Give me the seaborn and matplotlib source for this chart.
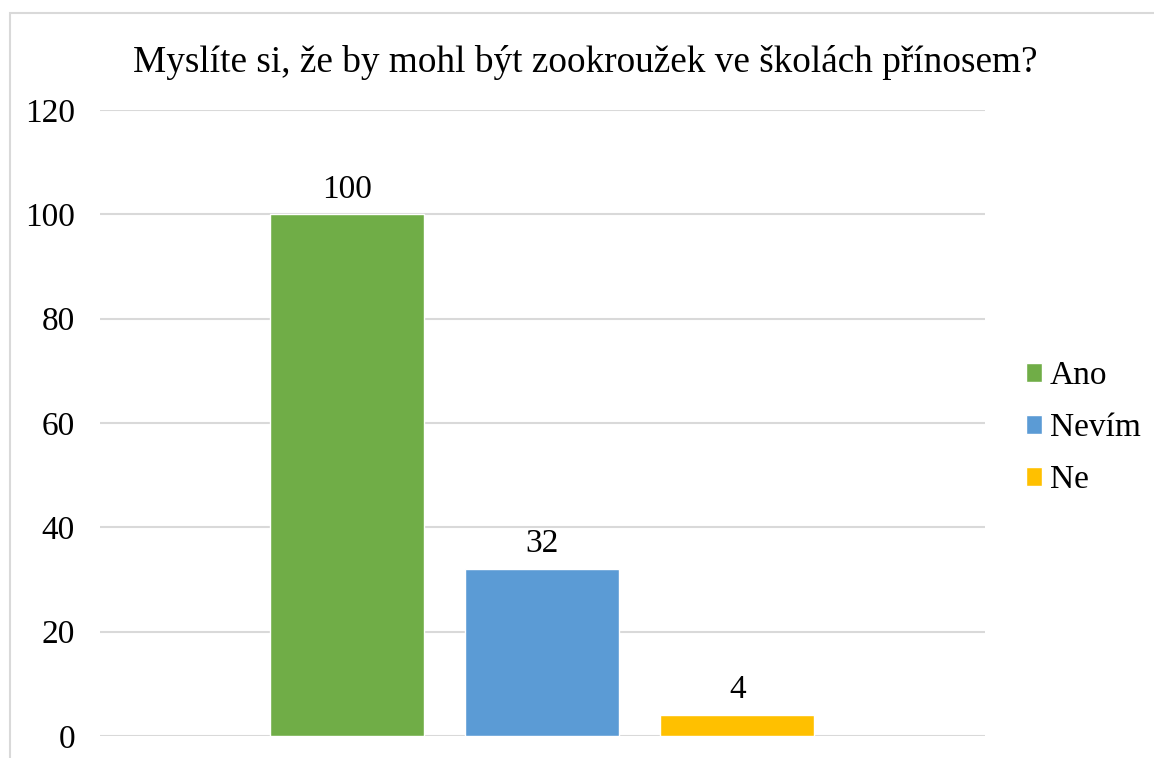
import matplotlib
matplotlib.use("Agg")
import matplotlib.pyplot as plt
import seaborn as sns
import pandas as pd
from matplotlib.patches import Rectangle

series = ["Ano", "Nevím", "Ne"]
values = [100, 32, 4]
colors = ["#70AD47", "#5B9BD5", "#FFC000"]
title = "Myslíte si, že by mohl být zookroužek ve školách přínosem?"

sns.set_theme(style="white")
plt.rcParams['font.family'] = ['Liberation Serif', 'DejaVu Serif']
plt.rcParams['text.color'] = 'black'
plt.rcParams['ytick.color'] = 'black'
plt.rcParams['ytick.labelcolor'] = 'black'

W, H = 1154, 758
fig = plt.figure(figsize=(W / 100, H / 100), dpi=100)
ax = fig.add_axes([100 / W, 1 - 736 / H, (985 - 100) / W, (736 - 110) / H])

df = pd.DataFrame({"series": series, "value": values})
sns.barplot(data=df, x="series", y="value", hue="series", palette=colors,
            width=154 / 195, ax=ax, legend=True, saturation=1, zorder=3)

ax.set_ylim(0, 120)
ax.set_yticks(range(0, 121, 20))
ax.set_xlim(-1.267, 3.27)
ax.set_xticks([])
ax.set_xlabel("")
ax.set_ylabel("")
for s in ax.spines.values():
    s.set_visible(False)
ax.grid(axis="y", color="#D9D9D9", linewidth=1.5, zorder=0)
ax.set_axisbelow(True)
ax.tick_params(axis="y", labelsize=24, pad=18, length=0, colors="black")

for c in ax.containers:
    ax.bar_label(c, fontsize=24, padding=7, color="black")

fig.text(585 / W, 1 - 62 / H, title, ha="center", va="center",
         fontsize=26.8, color="black")

leg = ax.legend(loc="center left", bbox_to_anchor=(1.046, 0.492), frameon=False,
                fontsize=24, handlelength=0.48, handleheight=0.48,
                handletextpad=0.25, labelspacing=0.65, borderpad=0,
                borderaxespad=0, labelcolor="black")

fig.patches.append(Rectangle((10 / W, -0.1), 1.2, 1 - 13 / H + 0.1,
                             transform=fig.transFigure, fill=False,
                             edgecolor="#D9D9D9", linewidth=1.5))

fig.savefig("out.png", dpi=100)
